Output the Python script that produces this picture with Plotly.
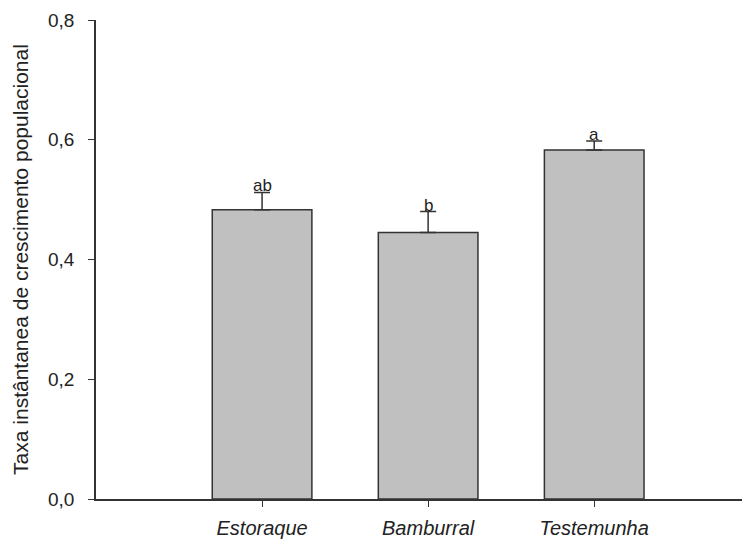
import plotly.graph_objects as go

# Populational growth rate per treatment
categories = ["Estoraque", "Bamburral", "Testemunha"]
means = [0.483, 0.445, 0.583]
errors = [0.029, 0.035, 0.015]
letters = ["ab", "b", "a"]
y_ticks = [0.0, 0.2, 0.4, 0.6, 0.8]

x_pos = list(range(len(categories)))
FONT = "Liberation Sans, Arial"

fig = go.Figure()
fig.add_trace(go.Bar(
    x=x_pos,
    y=means,
    width=0.6,
    marker=dict(color="#c0c0c0", line=dict(color="#333333", width=1.5)),
    error_y=dict(type="data", array=errors, arrayminus=[0] * len(errors),
                 symmetric=False, color="#333333", thickness=1.5, width=8),
    showlegend=False,
))

for xi, m, e, lab in zip(x_pos, means, errors, letters):
    fig.add_annotation(x=xi, y=m + e, text=lab, showarrow=False,
                       yanchor="bottom", yshift=-5,
                       font=dict(family=FONT, size=17, color="#222222"))

fig.update_layout(
    width=752, height=543,
    margin=dict(l=96, r=10, t=20, b=44),
    plot_bgcolor="white", paper_bgcolor="white",
    separators=", ",
    font=dict(family=FONT, size=18, color="#222222"),
    xaxis=dict(
        range=[-1.0, 2.89],
        tickmode="array", tickvals=x_pos,
        ticktext=[f"<i>{c}</i>" for c in categories],
        ticks="outside", ticklen=6, tickcolor="#333333", tickwidth=1,
        showline=True, linecolor="#333333", linewidth=1.5,
        showgrid=False, zeroline=False,
        tickfont=dict(size=20),
        ticklabelstandoff=4,
        automargin=False,
    ),
    yaxis=dict(
        range=[0, 0.8],
        tickmode="array", tickvals=y_ticks,
        tickformat=".1f",
        ticks="outside", ticklen=6, tickcolor="#333333", tickwidth=1,
        showline=True, linecolor="#333333", linewidth=1.5,
        showgrid=False, zeroline=False,
        tickfont=dict(size=19),
        ticklabelstandoff=10,
        automargin=False,
        title=dict(text="Taxa instântanea de crescimento populacional",
                   font=dict(size=21), standoff=14),
    ),
)

fig.write_html("out.html")
